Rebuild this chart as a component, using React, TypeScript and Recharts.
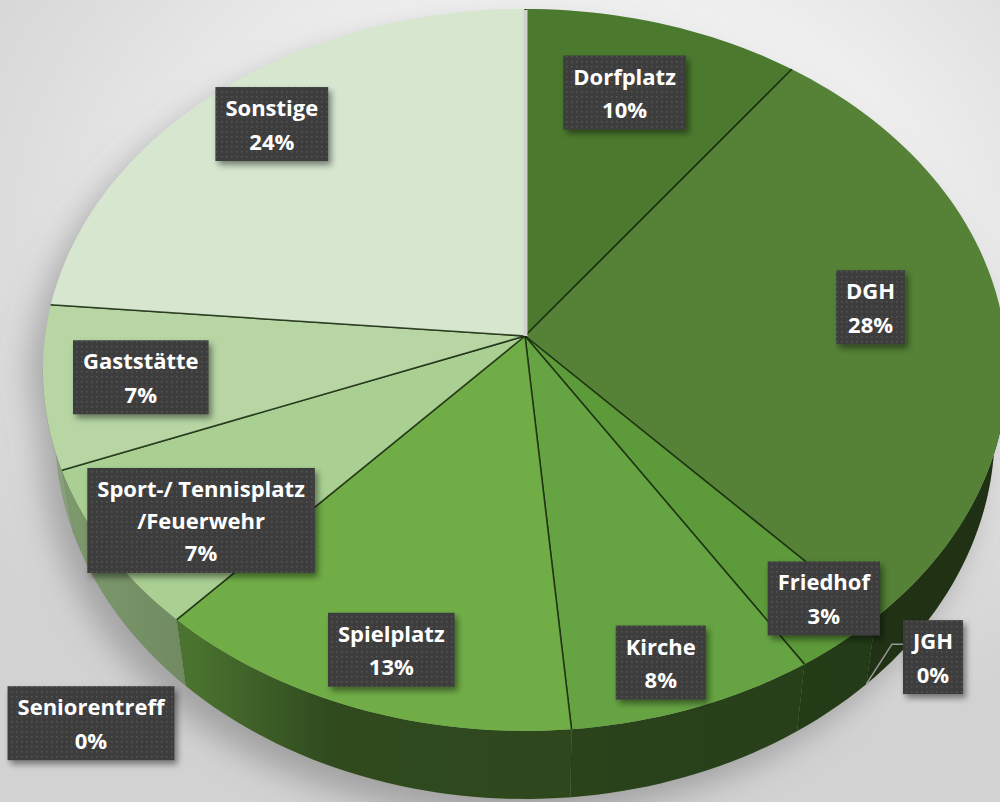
import React from 'react';
import { PieChart, Pie, Cell } from 'recharts';

// ---- data ----
const categories: string[] = [
  'Dorfplatz',
  'DGH',
  'JGH',
  'Friedhof',
  'Kirche',
  'Spielplatz',
  'Seniorentreff',
  'Sport-/ Tennisplatz\n/Feuerwehr',
  'Gaststätte',
  'Sonstige',
];
const shares: number[] = [10.2, 27.9, 0, 2.9, 7.6, 13.2, 0, 7.3, 7.3, 23.6];

// ---- styles / layout ----
const topColors = ['#4b7a2e', '#558236', '#5b9438', '#5c9a3a', '#66a443', '#70ad47', '#8dbd6c', '#a9cf92', '#b7d6a4', '#d6e6cf'];
const LABEL_R = [0.76, 0.73, 1.14, 0.9, 0.88, 0.85, 1.28, 0.81, 0.8, 0.84];
const LABEL_DA = [1.4, 3.3, 0.6, 2.7, -1.5, 1.1, 2.6, 3.0, 0.1, -0.8];

const W = 1000;
const H = 802;
const CX = 525;
const CY = 336;
const R = 480;
const BR = 0.7454; // vertical squash
const K = 0.094; // perspective
const DEPTH = 61.6;
const XC = 0.026;
const VIS_LO = -174.6;
const VIS_HI = -5.4;
const FONT = "'Open Sans', 'DejaVu Sans', sans-serif";
const FONT_SIZE = 22;

const data = categories.map((c, i) => ({ name: c, value: shares[i] }));

function projTop(cx: number, cy: number, r: number, a: number, rf = 1): [number, number] {
  const t = (a * Math.PI) / 180;
  const c = Math.cos(t) * rf;
  const s = Math.sin(t) * rf;
  const D = 1 + K * s;
  return [cx + (r * c) / D, cy - (r * BR * s) / D];
}
function projBottom(cx: number, cy: number, r: number, a: number): [number, number] {
  const [x, y] = projTop(cx, cy, r, a);
  const s = Math.sin((a * Math.PI) / 180);
  const D = 1 + K * s;
  return [cx + (x - cx) * (1 - XC), y + DEPTH / D];
}

function SliceShape(props: any) {
  const { cx, cy, outerRadius, startAngle, endAngle, fill } = props;
  const hi = Math.max(startAngle, endAngle);
  const lo = Math.min(startAngle, endAngle);
  const delta = hi - lo;
  const els: React.ReactNode[] = [];
  // side wall (front half only)
  const wl = Math.max(lo, VIS_LO);
  const wh = Math.min(hi, VIS_HI);
  if (wh > wl) {
    const n = Math.max(4, Math.ceil((wh - wl) / 1.5));
    const pts: string[] = [];
    for (let i = 0; i <= n; i++) {
      const a = wh - ((wh - wl) * i) / n;
      const [x, y] = projTop(cx, cy, outerRadius, a);
      pts.push(`${x.toFixed(2)},${y.toFixed(2)}`);
    }
    for (let i = 0; i <= n; i++) {
      const a = wl + ((wh - wl) * i) / n;
      const [x, y] = projBottom(cx, cy, outerRadius, a);
      pts.push(`${x.toFixed(2)},${y.toFixed(2)}`);
    }
    const d = 'M' + pts.join('L') + 'Z';
    els.push(<path key="w" d={d} fill={fill} />);
    els.push(<path key="ws" d={d} fill="url(#wallShade)" stroke="rgba(0,0,0,0.12)" strokeWidth={0.6} />);
  }
  if (delta > 0) {
    const n = Math.max(2, Math.ceil(delta / 1.5));
    const pts: string[] = [];
    for (let i = 0; i <= n; i++) {
      const a = startAngle + ((endAngle - startAngle) * i) / n;
      const [x, y] = projTop(cx, cy, outerRadius, a);
      pts.push(`${x.toFixed(2)},${y.toFixed(2)}`);
    }
    const d = `M${cx},${cy}L` + pts.join('L') + 'Z';
    els.push(<path key="t" d={d} fill={fill} />);
    const [x1, y1] = projTop(cx, cy, outerRadius, startAngle);
    const [x2, y2] = projTop(cx, cy, outerRadius, endAngle);
    els.push(
      <path
        key="e"
        d={`M${x1},${y1}L${cx},${cy}L${x2},${y2}`}
        fill="none"
        stroke="rgba(22,38,12,0.78)"
        strokeWidth={1.6}
        strokeLinejoin="round"
      />
    );
    if (Math.abs(endAngle + 270) < 0.01) {
      // light separation line at 12 o'clock
      els.push(
        <line key="wl" x1={cx + 0.5} y1={cy} x2={x2 + 0.5} y2={y2 + 1} stroke="#d0d2ce" strokeWidth={4} />
      );
    }
  }
  return <g>{els}</g>;
}

let measureCtx: CanvasRenderingContext2D | null = null;
function textWidth(s: string): number {
  if (!measureCtx) {
    const c = document.createElement('canvas');
    measureCtx = c.getContext('2d');
  }
  if (!measureCtx) return s.length * FONT_SIZE * 0.55;
  measureCtx.font = `bold ${FONT_SIZE}px ${FONT}`;
  return measureCtx.measureText(s).width;
}

function renderLabel(props: any) {
  const { cx, cy, outerRadius, midAngle, index, percent, name } = props;
  const a = midAngle + LABEL_DA[index];
  const [lx, ly] = projTop(cx, cy, outerRadius, a, LABEL_R[index]);
  const lines = String(name).split('\n');
  lines.push(`${Math.round(percent * 100)}%`);
  const lh = 33.5;
  const bw = Math.max(...lines.map(textWidth)) + 20;
  const bh = 74 + (lines.length - 2) * 31;
  const bx = lx - bw / 2;
  const by = ly - bh / 2;
  const els: React.ReactNode[] = [];
  if (shares[index] === 0 && LABEL_R[index] < 1.2) {
    // leader line to the wall seam
    const [ex, ey] = projBottom(cx, cy, outerRadius, midAngle);
    const yy = by + 24;
    els.push(
      <path
        key="ll"
        d={`M${bx},${yy}L${bx - 11},${yy}L${ex},${ey}`}
        fill="none"
        stroke="#9a9a9a"
        strokeWidth={1.5}
      />
    );
  }
  els.push(
    <rect key="r" x={bx} y={by} width={bw} height={bh} fill="url(#dots)" filter="url(#lblShadow)" />
  );
  lines.forEach((t, i) => {
    els.push(
      <text
        key={'t' + i}
        x={lx}
        y={by + 29 + i * lh - (lines.length > 2 ? i * 1.5 : 0)}
        textAnchor="middle"
        fill="#ffffff"
        fontFamily={FONT}
        fontWeight="bold"
        fontSize={FONT_SIZE}
      >
        {t}
      </text>
    );
  });
  return <g key={'lbl' + index}>{els}</g>;
}

function shadowPath(): string {
  const pts: string[] = [];
  for (let a = 90; a >= -270; a -= 3) {
    const [x, y] = a < VIS_HI && a > VIS_LO ? projBottom(CX, CY, R, a) : projTop(CX, CY, R, a);
    pts.push(`${x.toFixed(1)},${y.toFixed(1)}`);
  }
  return 'M' + pts.join('L') + 'Z';
}

export default function App() {
  return (
    <div style={{ position: 'absolute', left: 0, top: 0, width: W, height: H, overflow: 'hidden' }}>
      <div
        style={{
          position: 'absolute',
          inset: 0,
          background:
            'radial-gradient(ellipse 75% 70% at 58% 28%, #f8f8f8 0%, #eeeeee 45%, #dddddd 75%, #d2d2d2 100%)',
        }}
      />
      <svg width={W} height={H} style={{ position: 'absolute', left: 0, top: 0 }}>
        <defs>
          <filter id="shBlur" x="-20%" y="-20%" width="140%" height="140%">
            <feGaussianBlur stdDeviation="16" />
          </filter>
          <pattern id="dots" width="5" height="5" patternUnits="userSpaceOnUse">
            <rect width="5" height="5" fill="#3d3d3d" />
            <rect x="1" y="1" width="1.5" height="1.5" fill="#575757" />
          </pattern>
          <filter id="lblShadow" x="-20%" y="-20%" width="150%" height="160%">
            <feDropShadow dx="3" dy="4" stdDeviation="3" floodColor="#000" floodOpacity="0.45" />
          </filter>
          <linearGradient id="wallShade" gradientUnits="userSpaceOnUse" x1="40" y1="0" x2="1000" y2="0">
            <stop offset="0" stopColor="#000" stopOpacity="0.24" />
            <stop offset="0.16" stopColor="#000" stopOpacity="0.34" />
            <stop offset="0.3" stopColor="#000" stopOpacity="0.57" />
            <stop offset="1" stopColor="#000" stopOpacity="0.63" />
          </linearGradient>
        </defs>
        <g transform="translate(-14,18)" filter="url(#shBlur)">
          <path d={shadowPath()} fill="#7a7a7a" opacity={0.55} />
        </g>
      </svg>
      <div style={{ position: 'absolute', left: 0, top: 0 }}>
        <PieChart width={W} height={H} margin={{ top: 0, right: 0, bottom: 0, left: 0 }}>
          <Pie
            data={data}
            dataKey="value"
            nameKey="name"
            cx={CX}
            cy={CY}
            innerRadius={0}
            outerRadius={R}
            startAngle={90}
            endAngle={-270}
            stroke="none"
            isAnimationActive={false}
            shape={SliceShape}
            activeShape={SliceShape}
            inactiveShape={SliceShape}
            label={renderLabel}
            labelLine={false}
          >
            {data.map((d, i) => (
              <Cell key={d.name} fill={topColors[i]} />
            ))}
          </Pie>
        </PieChart>
      </div>
    </div>
  );
}
